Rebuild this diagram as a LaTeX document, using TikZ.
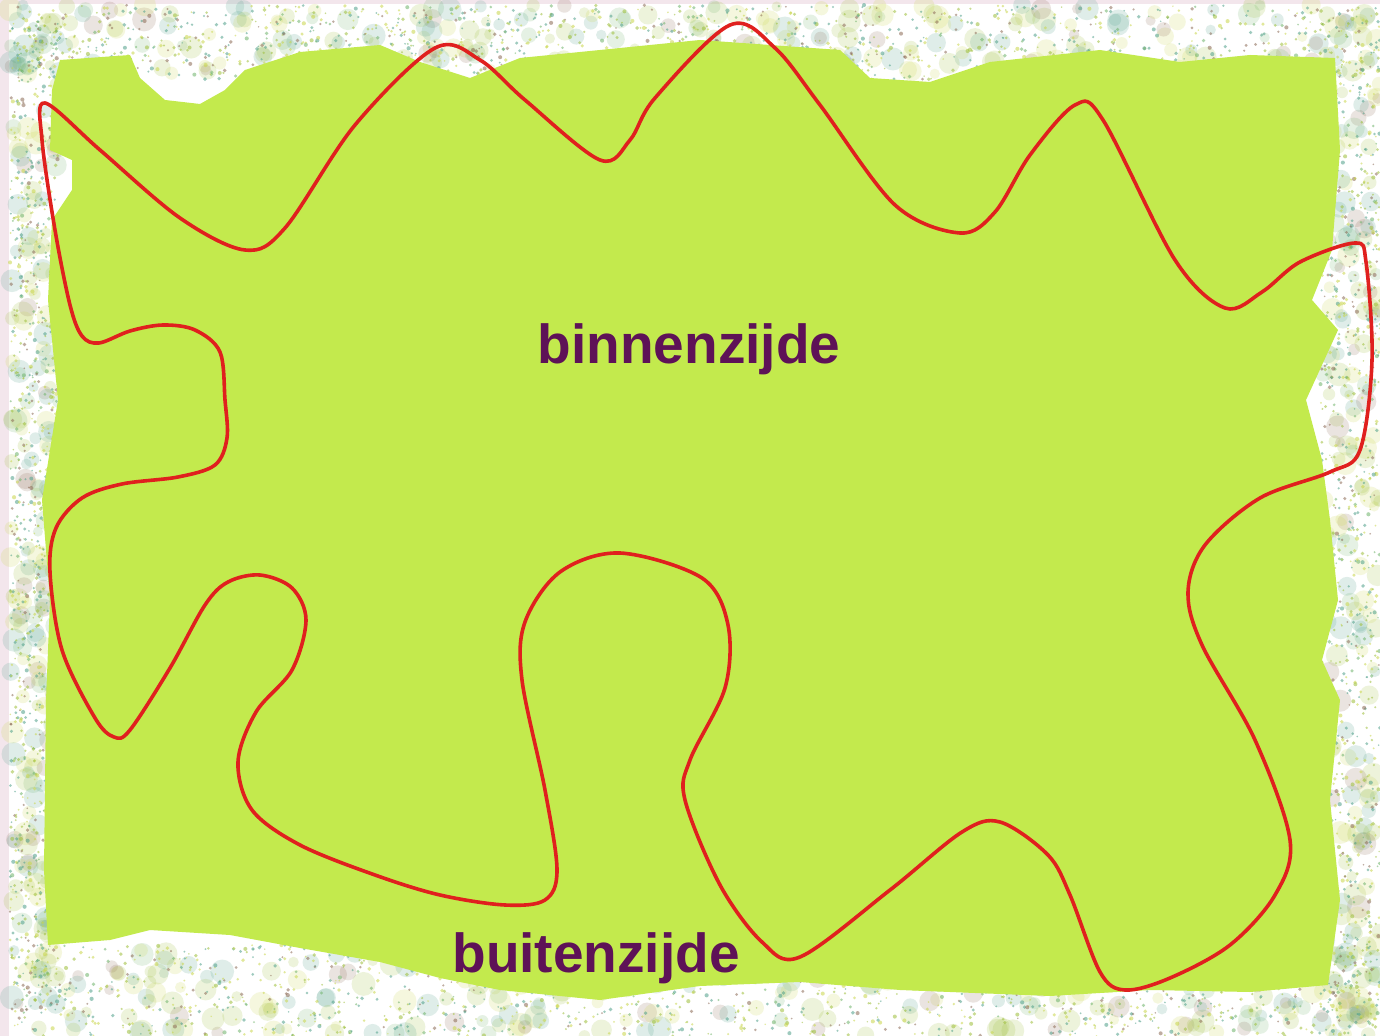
\documentclass[tikz,border=0pt]{standalone}
\usepackage{fontspec}
\setmainfont{Liberation Sans}
\definecolor{grass}{HTML}{C3EA4D}
\definecolor{curve}{HTML}{E0201E}
\definecolor{labelc}{HTML}{5E1257}
\definecolor{edgepink}{HTML}{F3E6EC}
\definecolor{tA}{HTML}{9DBF3A}
\definecolor{tB}{HTML}{4FA08A}
\definecolor{tC}{HTML}{8C6A55}
\definecolor{tD}{HTML}{C9D64A}
\definecolor{tE}{HTML}{6FB36A}
\tikzset{
  lbl/.style={font=\bfseries\fontsize{27.5}{30}\selectfont, text=labelc, inner sep=0pt},
  loopline/.style={draw=curve, line width=1.8pt, line join=round},
  blob/.style={opacity=0.18},
  speck/.style={opacity=0.55}
}
\pgfmathdeclarerandomlist{tex}{{tA}{tB}{tC}{tD}{tE}{tA}{tD}{tB}}
\newcommand{\texstrip}[6]{% count, x0, w, y0, h, kind
  \foreach \i in {1,...,#1}{
    \pgfmathsetmacro\xx{rnd*#3+#2}
    \pgfmathsetmacro\yy{rnd*#5+#4}
    \pgfmathrandomitem{\cc}{tex}
    \ifnum#6=1
      \pgfmathsetmacro\rr{rnd*7+5}
      \fill[\cc,blob] (\xx,\yy) circle[radius=\rr];
    \else
      \pgfmathsetmacro\rr{rnd*1.3+0.8}
      \fill[\cc,speck] (\xx,\yy) circle[radius=\rr];
    \fi
  }}
\begin{document}
\begin{tikzpicture}[x=0.5pt,y=-0.5pt]
\useasboundingbox (0,0) rectangle (1380,1036);
\fill[white] (0,0) rectangle (1380,1036);
\fill[edgepink] (0,0) rectangle (9,1036);
\fill[edgepink] (0,0) rectangle (1380,4);
\pgfmathsetseed{11}
% soft blobs
\texstrip{260}{10}{1370}{5}{70}{1}
\texstrip{280}{10}{1370}{950}{86}{1}
\texstrip{200}{10}{50}{20}{1000}{1}
\texstrip{200}{1322}{58}{20}{1000}{1}
% fine specks
\texstrip{1300}{10}{1370}{5}{75}{0}
\texstrip{1400}{10}{1370}{945}{91}{0}
\texstrip{900}{10}{48}{20}{1000}{0}
\texstrip{900}{1320}{60}{20}{1000}{0}
% green field
\fill[grass] (60,60) -- (130,55) -- (140,78) -- (165,100) -- (200,104) -- (225,90) -- (245,70) -- (300,52) -- (380,45)
  -- (420,62) -- (470,78) -- (520,58) -- (620,48) -- (700,40) -- (840,50) -- (870,78) -- (930,82) -- (990,62)
  -- (1100,50) -- (1180,62) -- (1250,55) -- (1335,58) -- (1340,150) -- (1332,250) -- (1312,300) -- (1338,330)
  -- (1306,400) -- (1322,460) -- (1330,520) -- (1338,600) -- (1322,660) -- (1340,700) -- (1330,800)
  -- (1340,900) -- (1328,985) -- (1250,992) -- (1150,990) -- (1050,996) -- (900,990) -- (800,982)
  -- (700,986) -- (600,1000) -- (500,990) -- (440,978) -- (380,962) -- (300,948) -- (230,935)
  -- (150,930) -- (110,940) -- (48,945) -- (44,870) -- (46,700) -- (50,600) -- (42,500) -- (58,400)
  -- (48,300) -- (52,220) -- (72,190) -- (72,160) -- (50,150) -- (52,90) -- cycle;
% closed curve
\draw[loopline] plot[smooth cycle, tension=0.55] coordinates {
 (45,103) (100,150) (180,218) (245,250) (285,228) (355,125) (435,48) (480,60) (525,100) (600,160) (630,140)
 (655,98) (730,25) (775,48) (820,105) (895,205) (960,233) (995,212) (1030,155) (1075,105) (1103,120)
 (1175,260) (1225,308) (1262,292) (1300,262) (1355,243) (1366,262) (1372,360) (1360,450) (1330,472)
 (1260,498) (1205,545) (1188,592) (1202,645) (1255,740) (1290,840) (1275,895) (1230,945) (1170,978)
 (1125,990) (1100,972) (1070,895) (1048,855) (1000,822) (962,832) (890,890) (800,957) (762,942)
 (720,885) (685,800) (690,760) (725,688) (728,625) (702,578) (620,553) (560,572) (525,622) (522,680)
 (545,790) (557,870) (545,900) (505,905) (440,895) (375,875) (300,845) (252,810) (238,762) (256,712)
 (292,670) (306,620) (292,588) (260,575) (228,582) (205,605) (170,668) (130,730) (114,737) (95,718)
 (62,650) (50,572) (56,528) (82,498) (122,484) (178,477) (215,465) (227,438) (225,400) (220,352)
 (195,330) (163,325) (130,331) (99,343) (82,336) (70,305) (55,230) (42,140) };
\node[lbl] (inside) at (689,349) {binnenzijde};
\node[lbl] (outside) at (596,958) {buitenzijde};
\end{tikzpicture}
\end{document}
